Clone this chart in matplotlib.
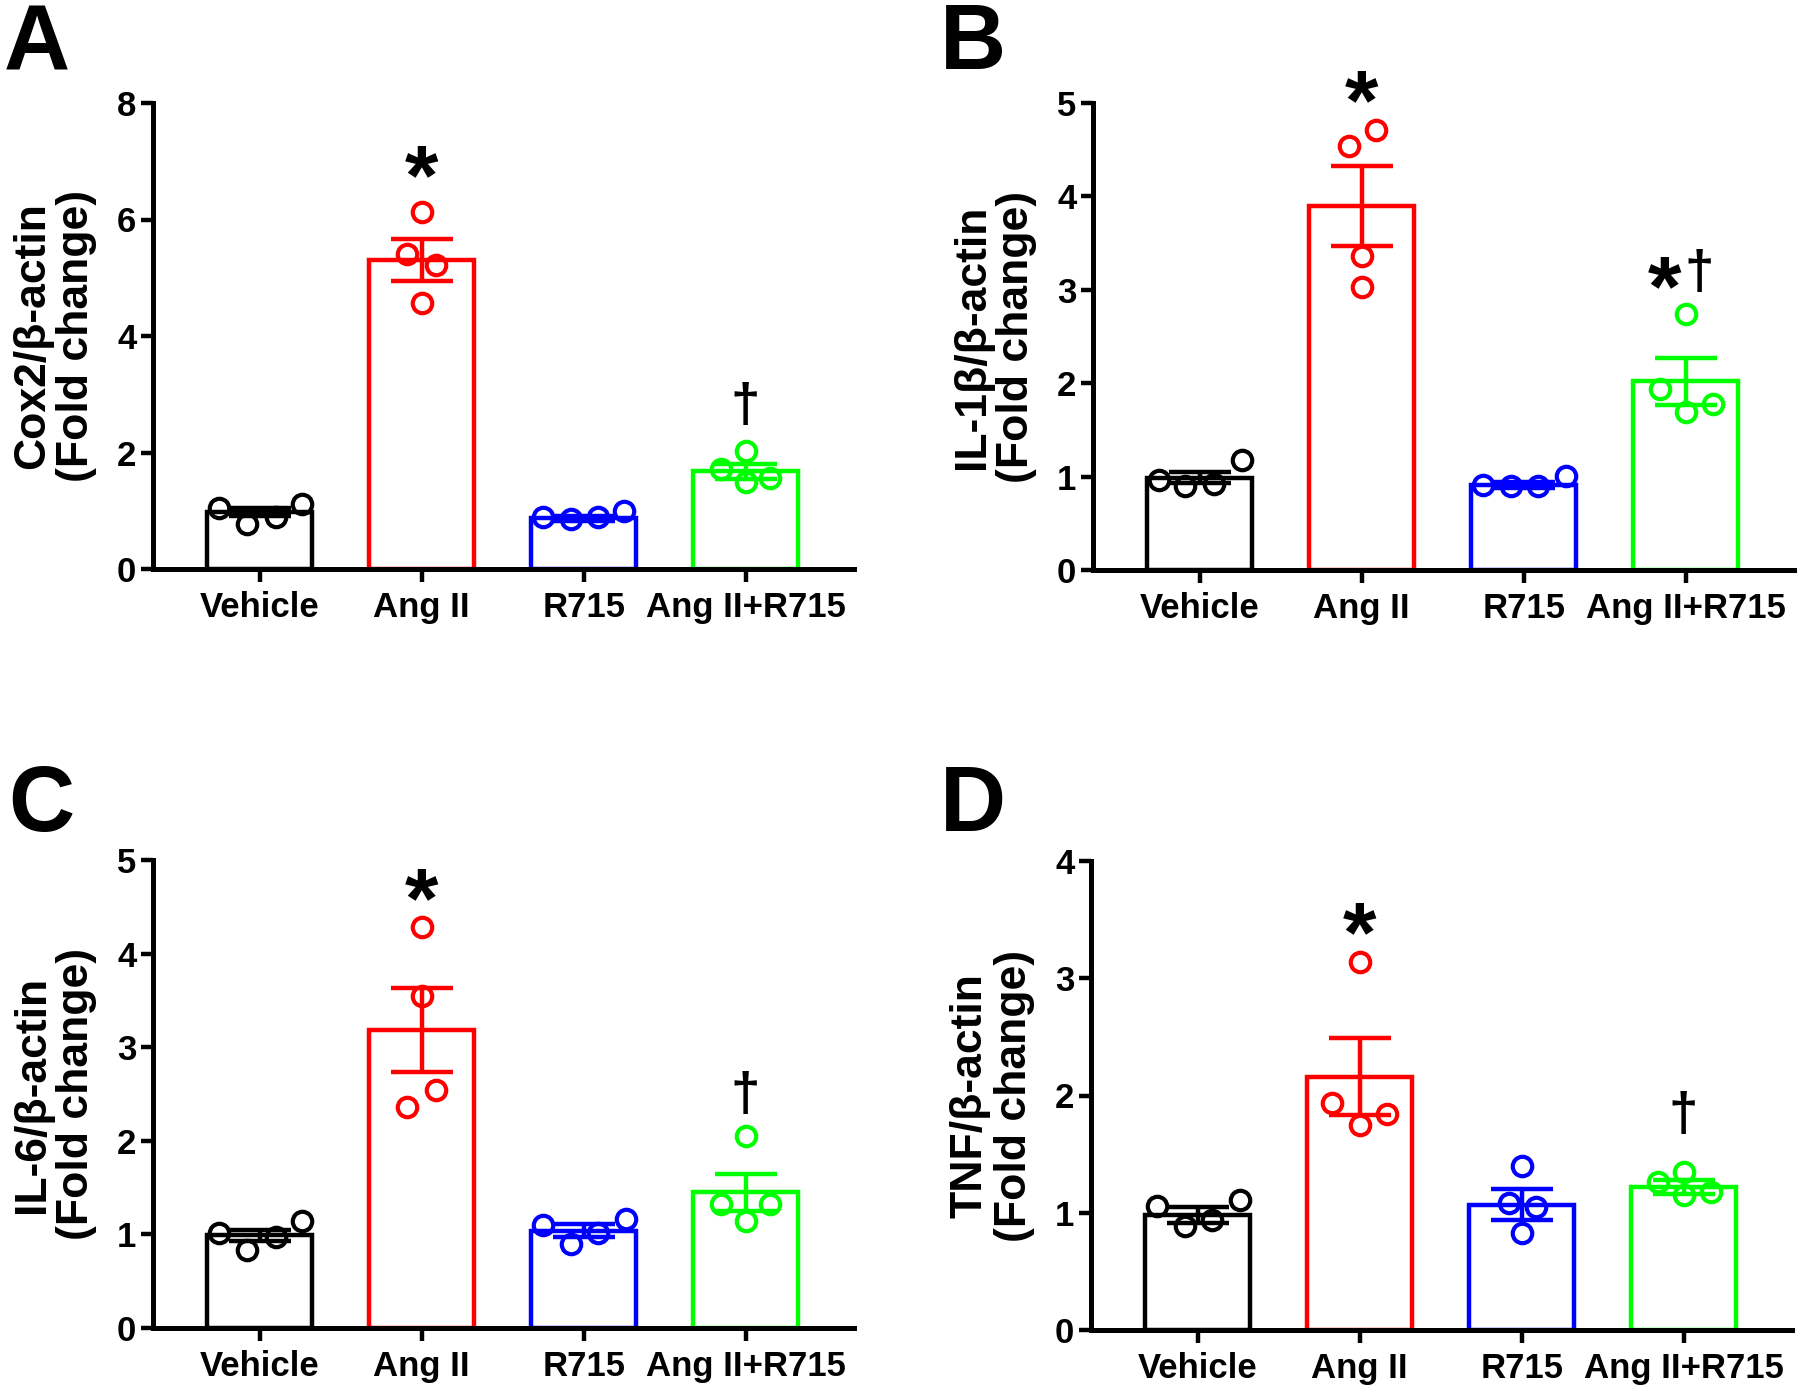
import matplotlib
matplotlib.use("Agg")
import matplotlib.pyplot as plt
import numpy as np

plt.rcParams['font.family'] = ['Liberation Sans', 'DejaVu Sans']
plt.rcParams['font.weight'] = 'bold'

# ---------------- data ----------------
groups = ["Vehicle", "Ang II", "R715", "Ang II+R715"]

# Panel A: Cox2
cox2_mean = [0.98, 5.31, 0.87, 1.68]
cox2_sem = [0.07, 0.36, 0.04, 0.13]
cox2_pts = [[1.04, 0.77, 0.89, 1.12],
            [6.13, 5.40, 5.22, 4.57],
            [0.89, 0.86, 0.89, 1.00],
            [2.02, 1.71, 1.50, 1.57]]

# Panel B: IL-1beta
il1b_mean = [0.99, 3.90, 0.91, 2.02]
il1b_sem = [0.06, 0.43, 0.03, 0.25]
il1b_pts = [[0.96, 0.90, 0.92, 1.18],
            [4.54, 4.71, 3.36, 3.03],
            [0.91, 0.90, 0.90, 1.01],
            [1.94, 2.74, 1.69, 1.78]]

# Panel C: IL-6
il6_mean = [0.99, 3.18, 1.04, 1.45]
il6_sem = [0.06, 0.45, 0.07, 0.20]
il6_pts = [[1.02, 0.83, 0.97, 1.14],
           [3.55, 4.28, 2.36, 2.54],
           [1.10, 0.90, 1.01, 1.16],
           [1.33, 2.05, 1.14, 1.33]]

# Panel D: TNF
tnf_mean = [0.98, 2.16, 1.07, 1.22]
tnf_sem = [0.07, 0.33, 0.13, 0.06]
tnf_pts = [[1.06, 0.89, 0.94, 1.11],
           [1.94, 3.14, 1.75, 1.84],
           [1.08, 1.40, 0.83, 1.05],
           [1.26, 1.35, 1.15, 1.18]]

ylabels = ["Cox2/\u03b2-actin\n(Fold change)",
           "IL-1\u03b2/\u03b2-actin\n(Fold change)",
           "IL-6/\u03b2-actin\n(Fold change)",
           "TNF/\u03b2-actin\n(Fold change)"]
ymaxes = [8, 5, 5, 4]
ysteps = [2, 1, 1, 1]

# significance marks: (group index, symbol, y value of glyph centre)
marks_A = [(1, "*", 7.0), (3, "\u2020", 2.80)]
marks_B = [(1, "*", 5.18), (3, "*", 3.18), (3, "\u2020", 3.18)]
marks_C = [(1, "*", 4.74), (3, "\u2020", 2.49)]
marks_D = [(1, "*", 3.51), (3, "\u2020", 1.83)]

# ---------------- layout / style ----------------
colors = ["#000000", "#FF0000", "#0000FF", "#00FF00"]
# horizontal jitter offsets of the dots within each bar (layout only)
jitter = {
    "A": [[-0.25, -0.08, 0.10, 0.26], [0.0, -0.09, 0.09, 0.0], [-0.25, -0.08, 0.09, 0.25], [0.0, -0.15, 0.0, 0.15]],
    "B": [[-0.25, -0.09, 0.09, 0.26], [-0.08, 0.09, 0.0, 0.0], [-0.25, -0.08, 0.09, 0.26], [-0.16, 0.0, 0.0, 0.17]],
    "C": [[-0.25, -0.08, 0.10, 0.26], [0.0, 0.0, -0.09, 0.09], [-0.25, -0.08, 0.09, 0.26], [-0.15, 0.0, 0.0, 0.15]],
    "D": [[-0.25, -0.08, 0.09, 0.26], [-0.17, 0.0, 0.0, 0.17], [-0.08, 0.0, 0.0, 0.09], [-0.16, 0.0, 0.0, 0.17]],
}
# horizontal offsets (points) for the two marks of the combined "*†" label
mark_dx = {("B", 1): -15, ("B", 2): 10}

STAR_FS = 62
DAGGER_FS = 38

W, H = 1800, 1392
fig = plt.figure(figsize=(W / 100, H / 100), dpi=100)

rects = {
    "A": (153 / W, 1 - 569 / H, 701 / W, 466 / H),
    "B": (1093 / W, 1 - 570 / H, 701 / W, 467 / H),
    "C": (153 / W, 1 - 1328 / H, 701 / W, 468 / H),
    "D": (1091 / W, 1 - 1330 / H, 701 / W, 469 / H),
}
letter_pos = {"A": (4 / W, 1 - 2 / H), "B": (940 / W, 1 - 2 / H),
              "C": (8 / W, 1 - 764 / H), "D": (940 / W, 1 - 764 / H)}

panels = [
    ("A", cox2_mean, cox2_sem, cox2_pts, marks_A),
    ("B", il1b_mean, il1b_sem, il1b_pts, marks_B),
    ("C", il6_mean, il6_sem, il6_pts, marks_C),
    ("D", tnf_mean, tnf_sem, tnf_pts, marks_D),
]

x = np.arange(len(groups))
for i, (key, means, sems, pts, marks) in enumerate(panels):
    ax = fig.add_axes(rects[key])
    for g in range(len(groups)):
        ax.bar(x[g], means[g], width=0.65, facecolor="white", edgecolor=colors[g],
               linewidth=3.2, zorder=2)
        ax.errorbar(x[g], means[g], yerr=sems[g], fmt="none", ecolor=colors[g],
                    elinewidth=3.2, capsize=22, capthick=3.2, zorder=3)
        ax.plot(x[g] + np.array(jitter[key][g]), pts[g], linestyle="none", marker="o",
                markersize=14, markerfacecolor="none", markeredgecolor=colors[g],
                markeredgewidth=3.0, zorder=4)
    for k, (g, sym, yv) in enumerate(marks):
        dx = mark_dx.get((key, k), 0)
        if sym == "*":
            fs, dy = STAR_FS, -0.24 * STAR_FS
        else:
            fs, dy = DAGGER_FS, -0.02 * DAGGER_FS
        ax.annotate(sym, xy=(x[g], yv), xytext=(dx, dy), textcoords="offset points",
                    ha="center", va="center", fontsize=fs, fontweight="bold",
                    annotation_clip=False, zorder=5)
    ax.set_xlim(-0.66, 3.67)
    ax.set_ylim(0, ymaxes[i])
    ax.set_yticks(np.arange(0, ymaxes[i] + 0.01, ysteps[i]))
    ax.set_xticks(x)
    ax.set_xticklabels(groups)
    for s in ["top", "right"]:
        ax.spines[s].set_visible(False)
    for s in ["left", "bottom"]:
        ax.spines[s].set_linewidth(3.6)
    ax.tick_params(axis="both", width=3.2, length=9, labelsize=25)
    ax.tick_params(axis="y", pad=3)
    ax.tick_params(axis="x", pad=7)
    for lab in ax.get_xticklabels() + ax.get_yticklabels():
        lab.set_fontweight("bold")
    ax.set_ylabel(ylabels[i], fontsize=32, fontweight="bold", linespacing=1.1)
    ax.yaxis.set_label_coords(-0.08, 0.5)
    fig.text(letter_pos[key][0], letter_pos[key][1], key, fontsize=66,
             fontweight="bold", ha="left", va="top")

fig.savefig("out.png", dpi=100)
